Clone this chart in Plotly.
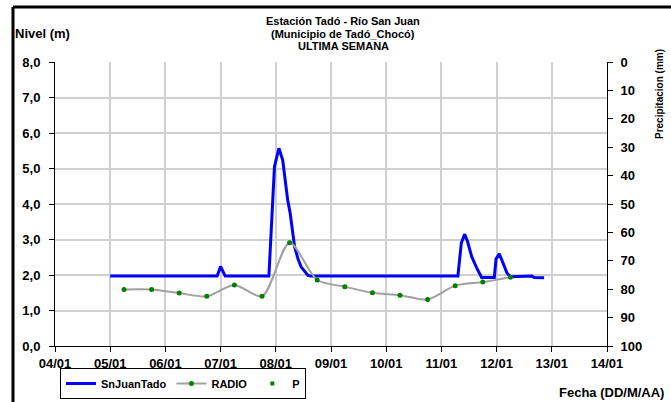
import plotly.graph_objects as go

# --- Data ---
blue_times = [
    "2021-01-05 00:00", "2021-01-06 22:30", "2021-01-07 00:00", "2021-01-07 02:00",
    "2021-01-07 21:00", "2021-01-07 22:40", "2021-01-07 23:25", "2021-01-08 01:20",
    "2021-01-08 03:00", "2021-01-08 05:10", "2021-01-08 06:15", "2021-01-08 08:10",
    "2021-01-08 09:40", "2021-01-08 11:00", "2021-01-08 14:00", "2021-01-08 15:00",
    "2021-01-11 07:10", "2021-01-11 08:40", "2021-01-11 10:05", "2021-01-11 11:20",
    "2021-01-11 13:10", "2021-01-11 15:20", "2021-01-11 17:30", "2021-01-11 23:00",
    "2021-01-11 23:45", "2021-01-12 01:10", "2021-01-12 02:50", "2021-01-12 04:30",
    "2021-01-12 06:00", "2021-01-12 14:00", "2021-01-12 15:20", "2021-01-12 16:20",
    "2021-01-12 20:40",
]
blue_values = [
    1.97, 1.97, 2.24, 1.97,
    1.97, 4.11, 5.05, 5.57,
    5.24, 4.11, 3.74, 2.80,
    2.45, 2.23, 1.99, 1.97,
    1.97, 2.90, 3.15, 2.95,
    2.52, 2.20, 1.93, 1.93,
    2.45, 2.60, 2.30, 2.06,
    1.95, 1.95, 1.97, 1.93,
    1.92,
]

radio_times = [
    "2021-01-05 06:00", "2021-01-05 18:00", "2021-01-06 06:00", "2021-01-06 18:00",
    "2021-01-07 06:00", "2021-01-07 18:00", "2021-01-08 06:00", "2021-01-08 18:00",
    "2021-01-09 06:00", "2021-01-09 18:00", "2021-01-10 06:00", "2021-01-10 18:00",
    "2021-01-11 06:00", "2021-01-11 18:00", "2021-01-12 06:00",
]
radio_values = [1.59, 1.59, 1.49, 1.40, 1.72, 1.40, 2.91, 1.86,
                1.67, 1.50, 1.43, 1.31, 1.70, 1.80, 1.94]

# precipitation series: no visible values in the picture
p_times = [None]
p_values = [None]

x_range = ["2021-01-04", "2021-01-14"]
title_lines = ["Estación Tadó - Río San Juan", "(Municipio de Tadó_Chocó)", "ULTIMA SEMANA"]

FONT = "Liberation Sans"

fig = go.Figure()
fig.add_trace(go.Scatter(
    x=blue_times, y=blue_values, name="SnJuanTado", mode="lines",
    line=dict(color="#0000FF", width=3), yaxis="y"))
fig.add_trace(go.Scatter(
    x=radio_times, y=radio_values, name="RADIO", mode="lines+markers",
    line=dict(color="#A0A0A0", width=2, shape="spline", smoothing=0.8),
    marker=dict(color="#008000", size=5), yaxis="y"))
fig.add_trace(go.Scatter(
    x=p_times, y=p_values, name="P", mode="markers",
    marker=dict(color="#008000", size=4, symbol="square"), yaxis="y2"))

W, H = 671, 402
L, R, T, B = 55, 64, 62, 56
pw, ph = W - L - R, H - T - B

def px(xp):
    return (xp - L) / pw

def py(yp):
    return (H - B - yp) / ph

def bold(size):
    return dict(family=FONT, size=size, color="black", weight="bold")

annotations = []
for i, line in enumerate(title_lines):
    annotations.append(dict(
        text=line, x=px(343), y=py(21 + i * 12.5), xref="paper", yref="paper",
        showarrow=False, font=bold(11), xanchor="center", yanchor="middle"))
annotations.append(dict(
    text="Nivel (m)", x=px(13), y=py(33), xref="paper", yref="paper",
    showarrow=False, font=bold(13), xanchor="left", yanchor="middle"))
annotations.append(dict(
    text="Precipitacion (mm)", x=px(660), y=py(94), xref="paper", yref="paper",
    showarrow=False, textangle=-90, font=bold(10), xanchor="center", yanchor="middle"))
annotations.append(dict(
    text="Fecha (DD/M/AA)", x=px(666), y=py(392), xref="paper", yref="paper",
    showarrow=False, font=bold(13), xanchor="right", yanchor="middle"))

shapes = [
    dict(type="line", xref="paper", yref="paper", x0=px(13), x1=px(700), y0=py(7), y1=py(7),
         line=dict(color="black", width=3)),
    dict(type="line", xref="paper", yref="paper", x0=px(13), x1=px(13), y0=py(7), y1=py(420),
         line=dict(color="black", width=3)),
]

tickfont = bold(13)

fig.update_layout(
    width=W, height=H,
    margin=dict(l=L, r=R, t=T, b=B, autoexpand=False),
    paper_bgcolor="white", plot_bgcolor="white",
    separators=",.",
    font=dict(family=FONT, color="black"),
    showlegend=True,
    legend=dict(
        orientation="h", xref="container", yref="container",
        x=60 / W, y=1 - 399 / H, xanchor="left", yanchor="bottom",
        bordercolor="black", borderwidth=1, bgcolor="white",
        font=bold(11),
        itemwidth=30, tracegroupgap=0,
    ),
    xaxis=dict(
        type="date", range=x_range, dtick=86400000, tick0="2021-01-04",
        tickformat="%d/%m", showgrid=True, gridcolor="#D0D0D0", gridwidth=1.5,
        showline=True, linecolor="black", linewidth=1, ticks="outside", ticklen=5,
        tickcolor="black", tickfont=tickfont, zeroline=False,
    ),
    yaxis=dict(
        range=[0, 8], dtick=1, tickformat=".1f", showgrid=True, gridcolor="#D0D0D0",
        gridwidth=1.5, showline=True, linecolor="black", linewidth=1, ticks="outside",
        ticklen=5, tickcolor="black", tickfont=tickfont, zeroline=False,
        ticklabelstandoff=6,
    ),
    yaxis2=dict(
        overlaying="y", side="right", range=[100, 0], dtick=10, showgrid=False,
        showline=True, linecolor="black", linewidth=1, ticks="outside", ticklen=5,
        tickcolor="black", tickfont=tickfont, zeroline=False, ticklabelstandoff=5,
    ),
    annotations=annotations,
    shapes=shapes,
)

fig.write_html("out.html", config={"displayModeBar": False},
               post_script="document.body.style.margin='0';")
